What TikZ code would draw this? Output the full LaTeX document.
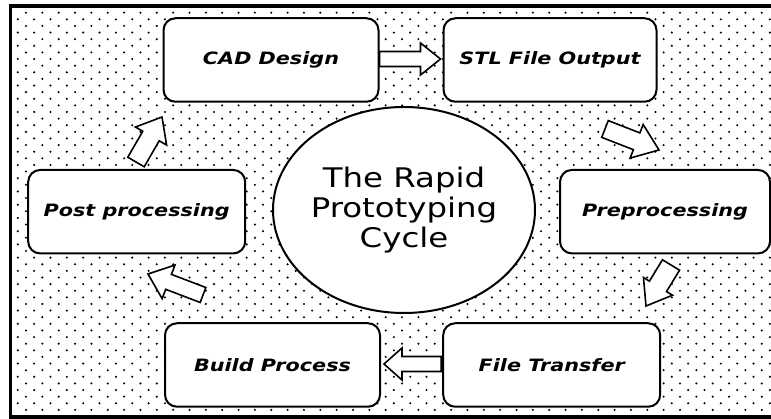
\documentclass[tikz,border=0pt]{standalone}
\usepackage{fontspec}
\usepackage{graphicx}
\usetikzlibrary{calc,shapes.geometric}

\newfontfamily\labelfamily{DejaVu Sans}
\newfontfamily\hubfamily{DejaVu Sans}

% stage labels: bold oblique, widened a little
\newcommand\stagelabel[1]{\scalebox{1.22}[1]{\labelfamily\bfseries\itshape\fontsize{17}{20}\selectfont #1}}

% outlined block arrow: tail, tip, shaft half width, head half width, head length
\newcommand\blockarrow[5]{%
  \draw[arrowshape]
    ($(#1)!#3!90:(#2)$)
    -- ($(#2)!#5!(#1)!#3!90:(#2)$)
    -- ($(#2)!#5!(#1)!#4!90:(#2)$)
    -- (#2)
    -- ($(#2)!#5!(#1)!#4!-90:(#2)$)
    -- ($(#2)!#5!(#1)!#3!-90:(#2)$)
    -- ($(#1)!#3!-90:(#2)$)
    -- cycle;}

\begin{document}
\begin{tikzpicture}[x=1pt,y=-1pt,
  stagebox/.style={draw=black, line width=2pt, fill=white, rounded corners=12pt,
    minimum height=83.5pt, inner sep=0pt},
  arrowshape/.style={draw=black, line width=1.6pt, fill=white, line join=miter},
  hubshape/.style={ellipse, draw=black, line width=2pt, fill=white, inner sep=0pt},
  frameline/.style={black, line width=3.5pt}]

\useasboundingbox (0,0) rectangle (771,419);

% dotted background
\foreach \r in {0,...,60}{
  \foreach \c in {0,...,46}{
    \fill[black] ({26 - 8.2*mod(\r,2) + 16.35*\c}, {12.7 + 6.62*\r}) circle (1.15);
  }
}

% frame (open on the right)
\draw[frameline] (771,6) -- (10.5,6) -- (10.5,417) -- (771,417);

% central hub
\node[hubshape, minimum width=262pt, minimum height=206pt] (hub) at (404,210) {};
\node (hubtext) at (404,212) {\scalebox{1.2}[1]{\hubfamily\fontsize{27}{30}\selectfont
  \begin{tabular}{@{}c@{}}The Rapid\\Prototyping\\Cycle\end{tabular}}};

% process stages
\node[stagebox, minimum width=215pt] (cad)   at (271,60)     {\stagelabel{CAD Design}};
\node[stagebox, minimum width=213pt] (stl)   at (550,60)     {\stagelabel{STL File Output}};
\node[stagebox, minimum width=210pt] (pre)   at (665,211.7)  {\stagelabel{Preprocessing}};
\node[stagebox, minimum width=217pt] (ft)    at (551.7,365)  {\stagelabel{File Transfer}};
\node[stagebox, minimum width=215pt] (build) at (272.5,365)  {\stagelabel{Build Process}};
\node[stagebox, minimum width=217pt] (post)  at (136.7,211.7){\stagelabel{Post processing}};

% arrow end points
\coordinate (a1tail) at ($(cad.east)+(0,-1)$);
\coordinate (a1tip)  at ($(stl.west)+(-2,-1)$);
\coordinate (a2tail) at (605,129);
\coordinate (a2tip)  at (659,150);
\coordinate (a3tail) at (671,265);
\coordinate (a3tip)  at (646,306);
\coordinate (a4tail) at ($(ft.west)+(-1,-1)$);
\coordinate (a4tip)  at ($(build.east)+(3,-1)$);
\coordinate (a5tail) at (203,295);
\coordinate (a5tip)  at (148,274);
\coordinate (a6tail) at (136,162);
\coordinate (a6tip)  at (162,117);

% cycle arrows
\blockarrow{a1tail}{a1tip}{7.5pt}{16pt}{20pt}
\blockarrow{a2tail}{a2tip}{9pt}{18pt}{24pt}
\blockarrow{a3tail}{a3tip}{10pt}{17pt}{23pt}
\blockarrow{a4tail}{a4tip}{7.5pt}{16pt}{18pt}
\blockarrow{a5tail}{a5tip}{8pt}{18pt}{22pt}
\blockarrow{a6tail}{a6tip}{9.5pt}{18pt}{22pt}

\end{tikzpicture}
\end{document}
